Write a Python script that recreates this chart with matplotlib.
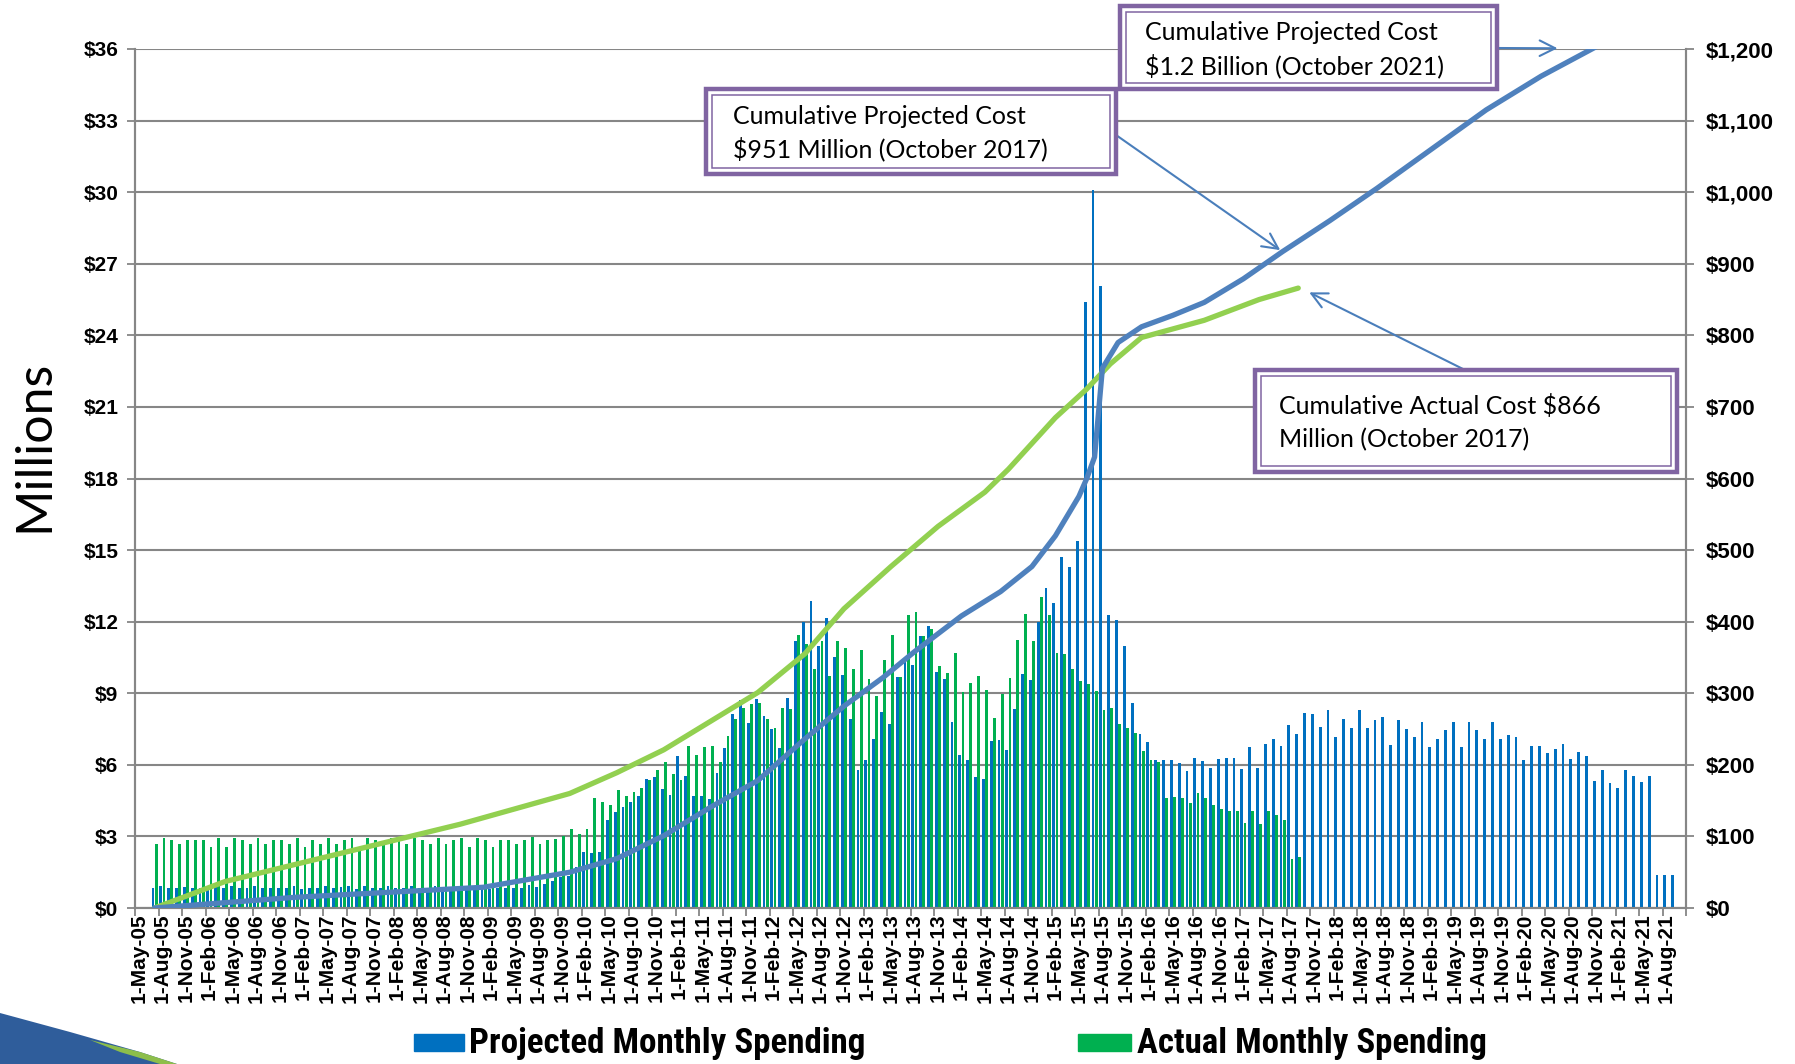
import numpy as np
import pandas as pd
import matplotlib
matplotlib.use("Agg")
import matplotlib.pyplot as plt
from matplotlib import font_manager
from matplotlib.font_manager import FontProperties
from matplotlib.patches import Rectangle, Polygon

# x axis: one slot per month, slot 0 = May 2005, 198 slots up to Oct 2021
n_slots = 198
first_month = 2  # first bar is July 2005

proj_monthly = [
    0.82, 0.91, 0.85, 0.82, 0.88, 0.85, 0.85, 0.82, 0.94, 0.82,
    0.91, 0.82, 0.85, 0.91, 0.82, 0.85, 0.85, 0.82, 0.91, 0.80,
    0.85, 0.82, 0.91, 0.82, 0.88, 0.91, 0.80, 0.91, 0.85, 0.82,
    0.91, 0.85, 0.82, 0.91, 0.85, 0.82, 0.91, 0.82, 0.88, 0.91,
    0.80, 0.94, 0.88, 0.80, 0.85, 0.85, 0.82, 0.85,
    0.95, 0.88, 1.0, 1.15, 1.3, 1.35, 1.72, 2.35, 2.3, 2.35, 3.67, 4.02, 4.23, 4.44,
    4.69, 5.4, 5.49, 4.97, 4.72, 6.37, 5.53, 4.69, 4.71, 4.58, 5.66, 6.69, 8.14,
    8.7, 7.77, 8.76, 8.03, 7.51, 6.72, 8.8, 11.2, 11.97, 12.85, 11.0, 12.15, 10.54,
    9.75, 7.9, 5.8, 6.2, 7.1, 8.2, 7.7, 9.7, 10.3, 10.2, 11.4, 11.8, 9.9, 9.6,
    7.8, 6.4, 6.2, 5.5, 5.4, 7.0, 7.06, 6.64,
    8.35, 9.81, 9.56, 12.0, 13.4, 12.8, 14.7, 14.3, 15.4, 25.4, 30.1, 26.05,
    12.3, 12.07, 10.98, 8.6, 7.3, 6.97, 6.2, 6.2,
    6.2, 6.06, 5.75, 6.3, 6.15, 5.88, 6.26, 6.29, 6.27, 5.81, 6.73, 5.87, 6.87,
    7.07, 6.79, 7.67, 7.3, 8.16, 8.13, 7.58, 8.28, 7.18, 7.91, 7.56, 8.28, 7.56,
    7.89, 8.0, 6.84, 7.86, 7.49, 7.16, 7.8, 6.76, 7.1, 7.44, 7.8, 6.76, 7.8,
    7.44, 7.1, 7.8, 7.1, 7.24, 7.18, 6.19, 6.79, 6.79, 6.48, 6.68, 6.86, 6.25,
    6.53, 6.39, 5.31, 5.78, 5.25, 5.01, 5.78, 5.53, 5.27, 5.53, 1.39, 1.39, 1.39, 0.04,
]

actual_monthly = [
    2.67, 2.93, 2.84, 2.67, 2.84, 2.84, 2.84, 2.56, 2.93, 2.56,
    2.93, 2.84, 2.67, 2.93, 2.67, 2.84, 2.84, 2.67, 2.93, 2.56,
    2.84, 2.67, 2.93, 2.67, 2.84, 2.93, 2.56, 2.93, 2.84, 2.67,
    2.93, 2.84, 2.67, 2.93, 2.84, 2.67, 2.93, 2.67, 2.84, 2.93,
    2.56, 2.93, 2.84, 2.56, 2.84, 2.84, 2.67, 2.84, 2.97, 2.70,
    2.86, 2.90, 3.03, 3.32, 3.11, 3.32, 4.62, 4.46, 4.32, 4.96, 4.69, 4.87,
    5.04, 5.38, 5.77, 6.12, 5.60, 5.35, 6.79, 6.40, 6.75, 6.77, 6.12, 7.21, 7.93,
    8.4, 8.56, 8.59, 7.93, 7.56, 8.39, 8.32, 11.44, 11.06, 10.0, 11.2, 9.72,
    11.2, 10.9, 10.0, 10.8, 9.6, 8.9, 10.4, 11.45, 9.68, 12.3, 12.4, 11.38, 11.7,
    10.14, 9.86, 10.7, 9.04, 9.44, 9.72, 9.12, 7.96, 8.98, 9.64,
    11.24, 12.33, 11.2, 13.03, 12.26, 10.7, 10.63, 10.0, 9.5, 9.4, 9.1, 8.3, 8.37,
    7.7, 7.55, 7.35, 6.6, 6.2, 6.13, 4.6, 4.66, 4.6, 4.4, 4.83, 4.6, 4.3, 4.13,
    4.06, 4.06, 3.57, 4.08, 3.54, 4.08, 3.9, 3.68, 2.04, 2.14,
]

# cumulative lines (right axis, $ millions), read at selected months
proj_cum_month = [2, 20, 44, 55, 61, 67, 73, 79, 85, 90, 95, 99, 105, 110, 114, 117,
                  120, 121, 122, 123, 125, 128, 132, 136, 141, 146, 152, 158, 165,
                  172, 179, 186]
proj_cum = [0, 15, 29, 50, 69, 101, 141, 178, 236, 282, 322, 358, 408, 442, 477, 520,
            575, 600, 630, 754, 790, 812, 828, 846, 879, 917, 960, 1005, 1060,
            1115, 1162, 1203]
actual_cum_month = [2, 11, 26, 41, 55, 61, 67, 73, 79, 85, 90, 96, 102, 108, 111, 117,
                    121, 124, 128, 136, 143, 148]
actual_cum = [0, 37, 77, 117, 160, 189, 221, 261, 301, 355, 418, 477, 533, 581, 613, 685,
              725, 760, 797, 821, 850, 866]

tick_labels = [f"1-{d:%b-%y}" for d in pd.date_range("2005-05-01", "2021-08-01", freq="3MS")]
legend_labels = ["Projected Monthly Spending", "Actual Monthly Spending"]

W, H = 1795, 1064
def fx(x):
    return x / W
def fy(y):
    return 1 - y / H

grid_c = "#868686"
blue_bar = "#0070C0"
green_bar = "#00B050"
blue_line = "#4F81BD"
green_line = "#92D050"
purple = "#8064A2"
arrow_c = "#4A7EBB"

bold = dict(family=["Liberation Sans", "DejaVu Sans"], weight="bold")

# look for a narrow bold face for the legend (Arial Narrow look)
names = {f.name for f in font_manager.fontManager.ttflist}
narrow = None
for n in ["Liberation Sans Narrow", "Arial Narrow", "Roboto Condensed", "Open Sans Condensed"]:
    if n in names:
        narrow = FontProperties(family=n, weight="bold")
        break
if narrow is None:
    cand = FontProperties(family="DejaVu Sans", weight="bold", stretch="condensed")
    if "Condensed" in font_manager.findfont(cand):
        narrow = cand
if narrow is None:
    narrow = FontProperties(family="Liberation Sans", weight="bold")

fig = plt.figure(figsize=(W / 100, H / 100), dpi=100)
ax = fig.add_axes([fx(135), fy(908), fx(1686) - fx(135), fy(49) - fy(908)])
ax2 = ax.twinx()

xp = np.arange(len(proj_monthly)) + first_month + 0.5
xa = np.arange(len(actual_monthly)) + first_month + 0.5
ax.bar(xp - 0.2, proj_monthly, width=0.36, color=blue_bar, zorder=2)
ax.bar(xa + 0.2, actual_monthly, width=0.36, color=green_bar, zorder=2)

ax.set_xlim(0, n_slots)
ax.set_ylim(0, 36)
ax.set_yticks(np.arange(0, 37, 3))
ax.set_yticklabels([f"${v}" for v in range(0, 37, 3)], fontsize=15, **bold)
ax.grid(axis="y", color=grid_c, lw=1.5, zorder=0)
ax.set_axisbelow(True)

ax.set_xticks(np.arange(0, n_slots + 1, 3))
ax.set_xticklabels([])
ax.set_xticks(np.arange(0, len(tick_labels) * 3, 3) + 0.5, minor=True)
ax.set_xticklabels(tick_labels, minor=True, rotation=90, fontsize=15, **bold)
ax.tick_params(axis="x", which="major", length=6, width=1.3, color=grid_c)
ax.tick_params(axis="x", which="minor", length=0, pad=4)
ax.tick_params(axis="y", length=6, width=1.3, color=grid_c, pad=6)

for a in (ax, ax2):
    for sp in ["left", "right", "bottom"]:
        a.spines[sp].set_color(grid_c)
        a.spines[sp].set_linewidth(1.5)
    a.spines["top"].set_visible(False)

ax2.plot(np.array(actual_cum_month) + 0.5, actual_cum, color=green_line, lw=3.8,
         solid_capstyle="round", zorder=3)
ax2.plot(np.array(proj_cum_month) + 0.5, proj_cum, color=blue_line, lw=3.8,
         solid_capstyle="round", zorder=4)
ax2.set_ylim(0, 1200)
ax2.set_yticks(np.arange(0, 1201, 100))
ax2.set_yticklabels([f"${v:,}" for v in range(0, 1201, 100)], fontsize=16, **bold)
ax2.tick_params(axis="y", length=6, width=1.3, color=grid_c, pad=8)

fig.text(fx(34), fy(446), "Millions", rotation=90, fontsize=36,
         family=["Lato", "DejaVu Sans"], ha="center", va="center")

# annotation boxes (double purple border)
boxes = [
    ((1120, 6, 1497, 89), 1145, ["Cumulative Projected Cost", "$1.2 Billion (October 2021)"], (33, 66)),
    ((706, 89, 1116, 174), 733, ["Cumulative Projected Cost", "$951 Million (October 2017)"], (116, 149)),
    ((1255, 370, 1677, 472), 1279, ["Cumulative Actual Cost $866", "Million (October 2017)"], (406, 440)),
]
for (x0, y0, x1, y1), tx, lines, ty in boxes:
    fig.add_artist(Rectangle((fx(x0), fy(y1)), fx(x1) - fx(x0), fy(y0) - fy(y1),
                             transform=fig.transFigure, fill=True, facecolor="white",
                             edgecolor=purple, lw=3.2, zorder=10))
    fig.add_artist(Rectangle((fx(x0 + 6), fy(y1 - 6)), fx(x1 - x0 - 12), fy(y0 + 6) - fy(y1 - 6),
                             transform=fig.transFigure, fill=False,
                             edgecolor=purple, lw=1.1, zorder=11))
    for line, yy in zip(lines, ty):
        fig.text(fx(tx), fy(yy), line, fontsize=18, family=["Lato", "DejaVu Sans"],
                 ha="left", va="center", zorder=12)

arrows = [
    ((181.6, 1201), (1497, 48)),
    ((146.2, 919), (1116, 135)),
    ((149.9, 860), (1465, 370)),
]
for target, start in arrows:
    ax2.annotate("", xy=target, xycoords="data", xytext=(fx(start[0]), fy(start[1])),
                 textcoords="figure fraction", annotation_clip=False,
                 arrowprops=dict(arrowstyle="->", color=arrow_c, lw=1.5, mutation_scale=28,
                                 shrinkA=0, shrinkB=0), zorder=9)

# legend: coloured squares + labels, label sized to the reference width
renderer = fig.canvas.get_renderer()
legend_items = [(414, 464, 469, 867, blue_bar), (1078, 1131, 1137, 1488, green_bar)]
for (sx0, sx1, tx0, tx1, col), lab in zip(legend_items, legend_labels):
    fig.add_artist(Rectangle((fx(sx0), fy(1051)), fx(sx1 - sx0), fy(1034) - fy(1051),
                             transform=fig.transFigure, color=col))
    t = fig.text(fx(tx0), fy(1043), lab, fontproperties=narrow, ha="left", va="center")
    t.set_fontsize(24)
    w = t.get_window_extent(renderer).width
    t.set_fontsize(min(27, 24 * (tx1 - tx0) / w))

# decorative swoosh bottom-left
fig.add_artist(Polygon([(fx(0), fy(1013)), (fx(70), fy(1032)), (fx(140), fy(1052)),
                        (fx(177), fy(1064)), (fx(0), fy(1064))], closed=True,
                       transform=fig.transFigure, facecolor="#2F5D9B", edgecolor="none"))
fig.add_artist(Polygon([(fx(90), fy(1040)), (fx(140), fy(1052)), (fx(177), fy(1064)),
                        (fx(160), fy(1064)), (fx(120), fy(1052))], closed=True,
                       transform=fig.transFigure, facecolor="#8DBE4A", edgecolor="none"))

fig.savefig("out.png", dpi=100)
